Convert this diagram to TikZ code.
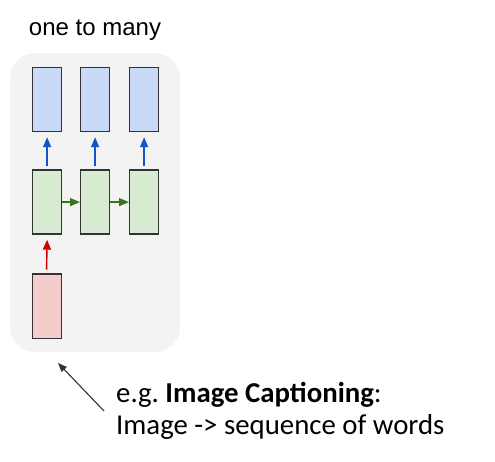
\documentclass[tikz,border=0pt]{standalone}
\usepackage{fontspec}
\setmainfont{Liberation Sans}
\newfontfamily\calib{Carlito}
\usetikzlibrary{arrows.meta}
\definecolor{bgc}{HTML}{F3F3F3}
\definecolor{bluef}{HTML}{C9DAF8}
\definecolor{greenf}{HTML}{D9EAD3}
\definecolor{redf}{HTML}{F4CCCC}
\definecolor{edgec}{HTML}{333333}
\definecolor{bluea}{HTML}{1155CC}
\definecolor{greena}{HTML}{38761D}
\definecolor{reda}{HTML}{CC0000}
\begin{document}
\begin{tikzpicture}[x=1pt,y=-1pt,
  cell/.style={draw=edgec,line width=1.2pt,minimum width=29pt,minimum height=64pt,inner sep=0pt,anchor=north west},
  arr/.style={line width=1.4pt,-{Triangle[length=10pt,width=8pt]}},
  lbl/.style={inner sep=0pt}]
\useasboundingbox (0,0) rectangle (495,462);
\fill[bgc,rounded corners=25pt] (10,53) rectangle (180,352);
\node[lbl,font=\fontsize{24}{28}\selectfont] (title) at (95,30) {one to many};
\node[cell,fill=bluef] (o1) at (32,67) {};
\node[cell,fill=bluef] (o2) at (80,67) {};
\node[cell,fill=bluef] (o3) at (129,67) {};
\node[cell,fill=greenf] (h1) at (32,169.5) {};
\node[cell,fill=greenf] (h2) at (80,169.5) {};
\node[cell,fill=greenf] (h3) at (129,169.5) {};
\node[cell,fill=redf] (in) at (31.5,273.5) {};
\draw[arr,draw=bluea,fill=bluea] ([yshift=3pt]h1.north) -- ([yshift=-5pt]o1.south);
\draw[arr,draw=bluea,fill=bluea] ([yshift=3pt]h2.north) -- ([yshift=-5pt]o2.south);
\draw[arr,draw=bluea,fill=bluea] ([yshift=3pt]h3.north) -- ([yshift=-5pt]o3.south);
\draw[arr,draw=greena,fill=greena] (h1.east) -- (h2.west);
\draw[arr,draw=greena,fill=greena] (h2.east) -- (h3.west);
\draw[arr,draw=reda,fill=reda] ([yshift=4pt]in.north) -- ([yshift=-5pt]h1.south);
\node[lbl,anchor=base west,font=\calib\fontsize{28.8}{32}\selectfont] (cap1) at (116,402) {e.g.\ \textbf{Image Captioning}:};
\node[lbl,anchor=base west,font=\calib\fontsize{28.8}{32}\selectfont] (cap2) at (116,434) {Image -> sequence of words};
\coordinate (tip) at (58,363);
\draw[line width=1.1pt,draw=edgec,-{Triangle[length=9pt,width=7pt]}] (104,411) -- (tip);
\end{tikzpicture}
\end{document}
